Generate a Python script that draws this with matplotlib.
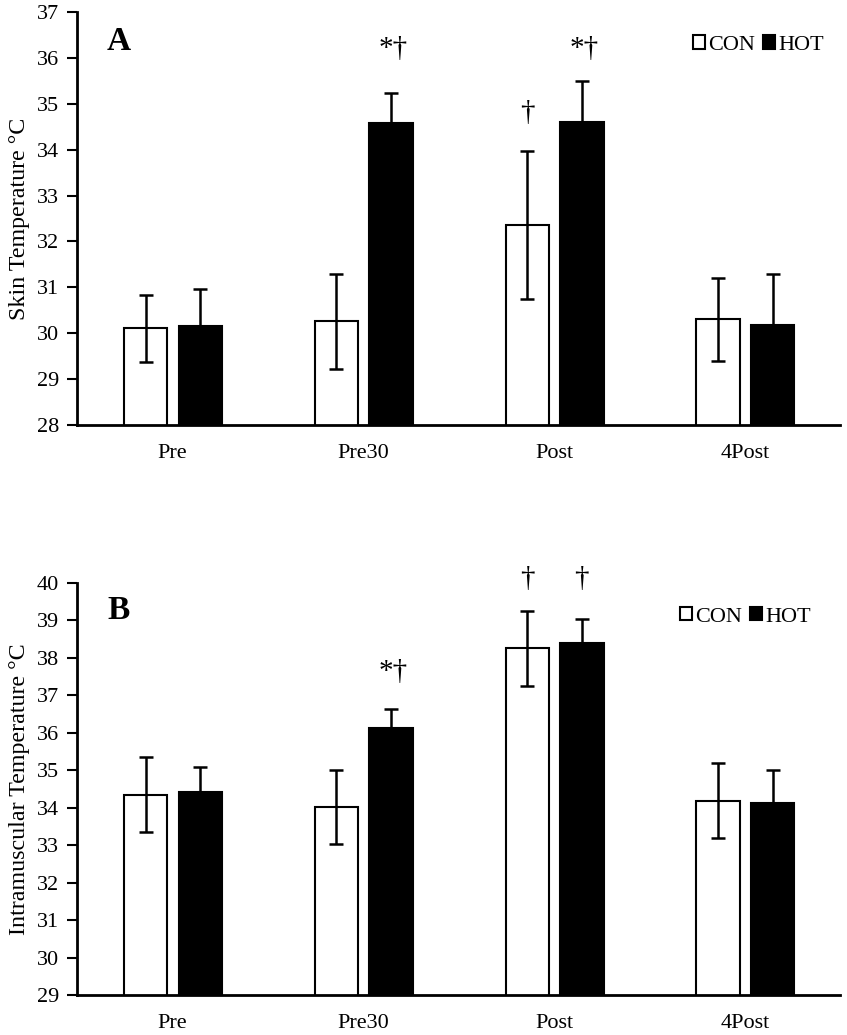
import matplotlib.pyplot as plt
import numpy as np
from matplotlib.patches import Patch

plt.rcParams['font.family'] = ['Liberation Serif', 'DejaVu Serif']

# data
timepoints = ["Pre", "Pre30", "Post", "4Post"]

skin_con = [30.11, 30.26, 32.36, 30.30]
skin_con_sd = [0.73, 1.03, 1.62, 0.91]
skin_hot = [30.16, 34.58, 34.61, 30.18]
skin_hot_sd = [0.80, 0.65, 0.89, 1.12]

musc_con = [34.35, 34.01, 38.26, 34.19]
musc_con_sd = [1.00, 0.99, 1.00, 1.00]
musc_hot = [34.43, 36.14, 38.40, 34.13]
musc_hot_sd = [0.67, 0.50, 0.65, 0.88]

# significance marks: (timepoint index, group, label, y of mark bottom)
skin_marks = [(1, "hot", "*†", 35.91), (2, "con", "†", 34.52), (2, "hot", "*†", 35.91)]
musc_marks = [(1, "hot", "*†", 37.28), (2, "con", "†", 39.77), (2, "hot", "†", 39.77)]

fig = plt.figure(figsize=(8.47, 10.35), dpi=100)
ax_a = fig.add_axes([0.0909, 0.5894, 0.9011, 0.3990])
ax_b = fig.add_axes([0.0909, 0.0386, 0.9011, 0.3981])

x = np.arange(len(timepoints))
w = 0.227
off_con, off_hot = -0.140, 0.146
fs = 16


def draw_panel(ax, con, con_sd, hot, hot_sd, marks, ylim, ylabel, letter, letter_y, leg_xy):
    ax.bar(x + off_con, con, w, bottom=0, color="white", edgecolor="black", linewidth=1.5, zorder=2)
    ax.bar(x + off_hot, hot, w, bottom=0, color="black", edgecolor="black", linewidth=1.5, zorder=2)
    ax.errorbar(x + off_con, con, yerr=con_sd, fmt="none", ecolor="black", elinewidth=1.8,
                capsize=5, capthick=1.8, zorder=3)
    ax.errorbar(x + off_hot, hot, yerr=hot_sd, fmt="none", ecolor="black", elinewidth=1.8,
                capsize=5, capthick=1.8, zorder=3)

    for i, grp, lab, yv in marks:
        xx = x[i] + (off_con if grp == "con" else off_hot)
        if lab.startswith("*"):
            xx += 0.01
        ax.text(xx, yv, lab, ha="center", va="bottom", fontsize=21, clip_on=False)

    ax.set_xlim(-0.5, 3.5)
    ax.set_ylim(*ylim)
    ax.set_yticks(np.arange(ylim[0], ylim[1] + 1))
    ax.set_xticks(x)
    ax.set_xticklabels(timepoints)
    ax.tick_params(axis="y", direction="out", length=7, width=1.5, labelsize=fs, pad=6)
    ax.tick_params(axis="x", length=0, labelsize=fs, pad=14)
    for s in ["top", "right"]:
        ax.spines[s].set_visible(False)
    for s in ["left", "bottom"]:
        ax.spines[s].set_linewidth(2)
    ax.set_ylabel(ylabel, fontsize=17.3, labelpad=5)

    ax.text(0.055, letter_y, letter, transform=ax.transAxes, fontsize=24, fontweight="bold",
            ha="center", va="center")

    handles = [Patch(facecolor="white", edgecolor="black", linewidth=1.5),
               Patch(facecolor="black", edgecolor="black", linewidth=1.5)]
    ax.legend(handles, ["CON", "HOT"], ncol=2, frameon=False, fontsize=fs,
              handlelength=0.55, handleheight=0.55, handletextpad=0.15, columnspacing=0.35,
              loc="center", bbox_to_anchor=leg_xy)


draw_panel(ax_a, skin_con, skin_con_sd, skin_hot, skin_hot_sd, skin_marks, (28, 37),
           "Skin Temperature °C", "A", 0.928, (0.893, 0.92))
draw_panel(ax_b, musc_con, musc_con_sd, musc_hot, musc_hot_sd, musc_marks, (29, 40),
           "Intramuscular Temperature °C", "B", 0.934, (0.876, 0.918))

fig.savefig("out.png", dpi=100, facecolor="white")
